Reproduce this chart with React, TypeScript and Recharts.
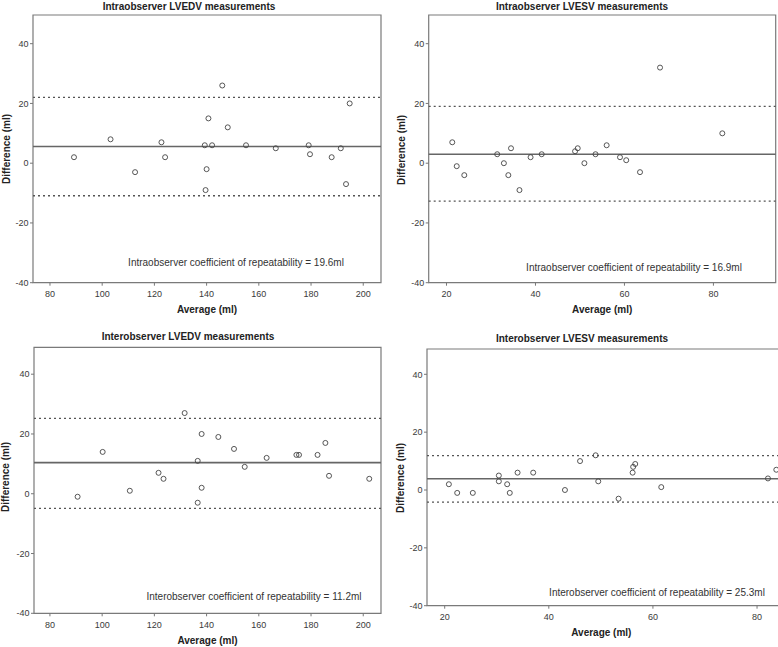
import React from "react";
import {
  ScatterChart,
  Scatter,
  XAxis,
  YAxis,
  ReferenceLine,
  ReferenceArea,
} from "recharts";

// Bland-Altman panels: average of two readings vs their difference (ml)
const intraEdvAvg = [89.2, 103.2, 112.6, 122.7, 124.1, 139.3, 142.1, 140.7, 140.0, 139.6, 146.0, 148.1, 155.1, 166.5, 179.1, 179.6, 187.9, 191.4, 194.8, 193.4];
const intraEdvDiff = [2, 8, -3, 7, 2, 6, 6, 15, -2, -9, 26, 12, 6, 5, 6, 3, 2, 5, 20, -7];

const intraEsvAvg = [21.3, 22.3, 24.0, 31.4, 32.9, 33.9, 34.5, 36.4, 38.9, 41.4, 48.9, 49.5, 51.0, 53.5, 56.0, 59.0, 60.4, 63.5, 68.0, 82.0];
const intraEsvDiff = [7, -1, -4, 3, 0, -4, 5, -9, 2, 3, 4, 5, 0, 3, 6, 2, 1, -3, 32, 10];

const interEdvAvg = [90.6, 100.2, 110.6, 121.6, 123.5, 131.6, 136.6, 138.1, 138.1, 136.6, 144.5, 150.5, 154.6, 163.0, 174.4, 175.4, 182.5, 185.5, 186.9, 202.3];
const interEdvDiff = [-1, 14, 1, 7, 5, 27, 11, 20, 2, -3, 19, 15, 9, 12, 13, 13, 13, 17, 6, 5];

const interEsvAvg = [20.8, 22.4, 25.4, 30.4, 30.4, 32.0, 32.5, 34.0, 37.0, 43.1, 46.0, 49.0, 49.5, 53.4, 56.1, 56.2, 56.6, 61.6, 82.1, 83.7];
const interEsvDiff = [2, -1, -1, 5, 3, 2, -1, 6, 6, 0, 10, 12, 3, -3, 6, 8, 9, 1, 4, 7];

// [mean, upper limit, lower limit]
const intraEdvLimits = [5.6, 22.0, -10.9];
const intraEsvLimits = [3.0, 19.0, -12.7];
const interEdvLimits = [10.4, 25.2, -4.9];
const interEsvLimits = [3.9, 11.9, -4.2];

const yTicks = [-40, -20, 0, 20, 40];
const edvTicks = [80, 100, 120, 140, 160, 180, 200];
const esvTicks = [20, 40, 60, 80];

const FONT = '"Liberation Sans", Arial, sans-serif';
const TICK = { fill: "#3a3a3a", fontSize: 9, fontFamily: FONT };

type Box = { l: number; t: number; r: number; b: number };

type PanelProps = {
  x: number;
  y: number;
  w: number;
  h: number;
  plot: Box;
  xDomain: [number, number];
  yDomain: [number, number];
  xTicks: number[];
  avg: number[];
  diff: number[];
  limits: number[];
};

function Ring(props: any) {
  const { cx, cy } = props;
  if (cx == null || cy == null) return null;
  return <circle cx={cx} cy={cy} r={2.5} fill="none" stroke="#444" strokeWidth={0.9} />;
}

function Panel({ x, y, w, h, plot, xDomain, yDomain, xTicks, avg, diff, limits }: PanelProps) {
  const data = avg.map((a, i) => ({ x: a, y: diff[i] }));
  const [mean, upper, lower] = limits;
  return (
    <div style={{ position: "absolute", left: x, top: y }}>
      <ScatterChart
        width={w}
        height={h}
        margin={{ top: plot.t - y, right: x + w - plot.r, left: 0, bottom: 0 }}
      >
        <XAxis
          type="number"
          dataKey="x"
          domain={xDomain}
          ticks={xTicks}
          allowDataOverflow
          height={y + h - plot.b}
          tick={TICK}
          tickSize={3}
          tickMargin={5}
          axisLine={false}
          tickLine={{ stroke: "#777" }}
        />
        <YAxis
          type="number"
          dataKey="y"
          domain={yDomain}
          ticks={yTicks}
          allowDataOverflow
          width={plot.l - x}
          tick={TICK}
          tickSize={3}
          tickMargin={1.5}
          axisLine={false}
          tickLine={{ stroke: "#777" }}
        />
        <ReferenceArea
          x1={xDomain[0]}
          x2={xDomain[1]}
          y1={yDomain[0]}
          y2={yDomain[1]}
          fill="none"
          stroke="#7a7a7a"
          strokeWidth={1.2}
          fillOpacity={0}
        />
        <ReferenceLine y={upper} stroke="#555" strokeWidth={1.3} strokeDasharray="2 3" />
        <ReferenceLine y={lower} stroke="#555" strokeWidth={1.3} strokeDasharray="2 3" />
        <ReferenceLine y={mean} stroke="#666" strokeWidth={1.6} />
        <Scatter data={data} shape={<Ring />} isAnimationActive={false} />
      </ScatterChart>
    </div>
  );
}

const titleStyle = { fontFamily: FONT, fontSize: 10, fontWeight: 700, fill: "#222" } as const;
const noteStyle = { fontFamily: FONT, fontSize: 10, fill: "#333" } as const;

export default function App() {
  const p1: Box = { l: 33, t: 15, r: 381, b: 282.7 };
  const p2: Box = { l: 428.7, t: 15, r: 775.7, b: 282.7 };
  const p3: Box = { l: 34, t: 347.3, r: 381, b: 613.3 };
  const p4: Box = { l: 427, t: 349, r: 778.9, b: 605.7 };

  const yLabel = (cx: number, cy: number) => (
    <text x={cx} y={cy} transform={`rotate(-90 ${cx} ${cy})`} textAnchor="middle" dominantBaseline="central" style={titleStyle}>
      Difference (ml)
    </text>
  );
  const xLabel = (p: Box) => (
    <text x={(p.l + Math.min(p.r, 775.7)) / 2} y={p.b + 27} textAnchor="middle" dominantBaseline="central" style={titleStyle}>
      Average (ml)
    </text>
  );

  return (
    <div
      style={{
        position: "absolute",
        left: 0,
        top: 0,
        width: 778,
        height: 647,
        overflow: "hidden",
        background: "#fff",
      }}
    >
      <Panel x={0} y={0} w={390} h={320} plot={p1} xDomain={[73.5, 206.8]} yDomain={[-40, 49.6]} xTicks={edvTicks} avg={intraEdvAvg} diff={intraEdvDiff} limits={intraEdvLimits} />
      <Panel x={388} y={0} w={390} h={320} plot={p2} xDomain={[16, 94]} yDomain={[-40, 49.6]} xTicks={esvTicks} avg={intraEsvAvg} diff={intraEsvDiff} limits={intraEsvLimits} />
      <Panel x={0} y={320} w={390} h={327} plot={p3} xDomain={[73.9, 206.8]} yDomain={[-40, 49]} xTicks={edvTicks} avg={interEdvAvg} diff={interEdvDiff} limits={interEdvLimits} />
      <Panel x={388} y={320} w={392} h={327} plot={p4} xDomain={[16.6, 84.2]} yDomain={[-40, 48.75]} xTicks={esvTicks} avg={interEsvAvg} diff={interEsvDiff} limits={interEsvLimits} />

      <svg width={778} height={647} style={{ position: "absolute", left: 0, top: 0, pointerEvents: "none" }}>
        <text x={189} y={6} textAnchor="middle" dominantBaseline="central" style={titleStyle}>
          Intraobserver LVEDV measurements
        </text>
        <text x={582} y={6} textAnchor="middle" dominantBaseline="central" style={titleStyle}>
          Intraobserver LVESV measurements
        </text>
        <text x={188} y={336} textAnchor="middle" dominantBaseline="central" style={titleStyle}>
          Interobserver LVEDV measurements
        </text>
        <text x={582} y={338} textAnchor="middle" dominantBaseline="central" style={titleStyle}>
          Interobserver LVESV measurements
        </text>

        {yLabel(6, 149)}
        {yLabel(401, 150)}
        {yLabel(5, 477)}
        {yLabel(400, 478)}

        {xLabel(p1)}
        {xLabel(p2)}
        {xLabel(p3)}
        {xLabel(p4)}

        <text x={236} y={262} textAnchor="middle" dominantBaseline="central" style={noteStyle}>
          Intraobserver coefficient of repeatability = 19.6ml
        </text>
        <text x={634} y={267} textAnchor="middle" dominantBaseline="central" style={noteStyle}>
          Intraobserver coefficient of repeatability = 16.9ml
        </text>
        <text x={254} y={596} textAnchor="middle" dominantBaseline="central" style={noteStyle}>
          Interobserver coefficient of repeatability = 11.2ml
        </text>
        <text x={657} y={592} textAnchor="middle" dominantBaseline="central" style={noteStyle}>
          Interobserver coefficient of repeatability = 25.3ml
        </text>
      </svg>
    </div>
  );
}
